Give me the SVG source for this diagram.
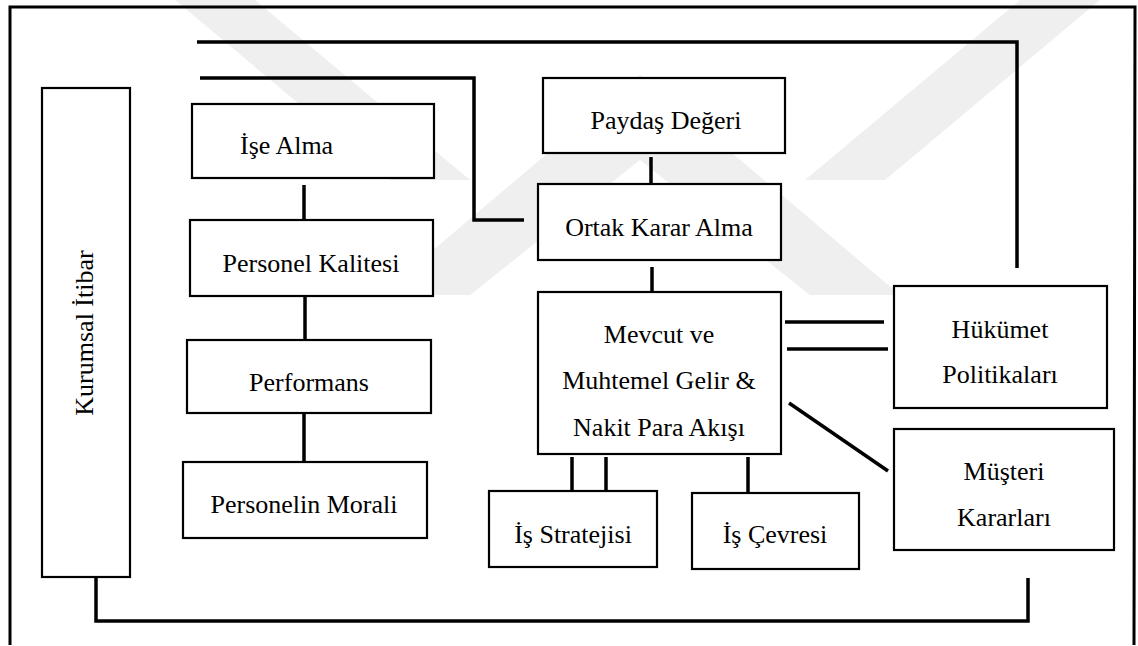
<svg xmlns="http://www.w3.org/2000/svg" width="1138" height="646" viewBox="0 0 1138 646">
<defs>
<style>
.box{fill:#fff;stroke:#000;stroke-width:2.2}
.lbl{font-family:'Liberation Serif','Times New Roman',Times,serif;font-size:26px;fill:#000;text-anchor:middle}
.con{fill:none;stroke:#000;stroke-width:3.5;stroke-linejoin:miter;stroke-linecap:butt}
.wm{fill:#efefef;stroke:none}
</style>
<linearGradient id="bfade" x1="0" y1="0" x2="1" y2="0">
<stop offset="0" stop-color="#444"/>
<stop offset="1" stop-color="#e0e0e0"/>
</linearGradient>
</defs>
<rect x="0" y="0" width="1138" height="646" fill="#fff"/>
<g id="watermark">
<polygon class="wm" points="640,75 900,295 810,295 640,160 470,295 380,295"/>
<polygon class="wm" points="175,0 255,0 470,180 390,180"/>
<polygon class="wm" points="1100,0 1020,0 805,180 885,180"/>
</g>
<g id="frame">
<polyline points="10,645 10,7 1135,7 1134,645" fill="none" stroke="#000" stroke-width="3"/>
<line x1="10" y1="645" x2="640" y2="645" stroke="url(#bfade)" stroke-width="2"/>
</g>
<g id="connectors">
<polyline class="con" points="197,42 1017,42 1017,268"/>
<polyline class="con" points="200,78 474,78 474,220 524,220"/>
<polyline class="con" points="96,577 96,621 1028,621 1028,578"/>
<line class="con" x1="304" y1="185" x2="304" y2="220"/>
<line class="con" x1="305" y1="296" x2="305" y2="340"/>
<line class="con" x1="304" y1="413" x2="304" y2="462"/>
<line class="con" x1="651" y1="157" x2="651" y2="184"/>
<line class="con" x1="652" y1="267" x2="652" y2="292"/>
<line class="con" x1="785" y1="322" x2="884" y2="322"/>
<line class="con" x1="787" y1="349" x2="888" y2="349"/>
<line class="con" x1="789" y1="403" x2="888" y2="471"/>
<line class="con" x1="572" y1="457" x2="572" y2="491"/>
<line class="con" x1="606" y1="457" x2="606" y2="491"/>
<line class="con" x1="748" y1="457" x2="748" y2="493"/>
</g>
<g id="kurumsal-itibar">
<rect class="box" x="42" y="88" width="88" height="489"/>
<text class="lbl" transform="translate(93,333) rotate(-90)">Kurumsal İtibar</text>
</g>
<g id="ise-alma">
<rect class="box" x="192" y="104" width="242" height="74"/>
<text class="lbl" x="240" y="154" style="text-anchor:start">İşe Alma</text>
</g>
<g id="personel-kalitesi">
<rect class="box" x="190" y="220" width="243" height="76"/>
<text class="lbl" x="311" y="272">Personel Kalitesi</text>
</g>
<g id="performans">
<rect class="box" x="187" y="340" width="244" height="73"/>
<text class="lbl" x="309" y="391">Performans</text>
</g>
<g id="personelin-morali">
<rect class="box" x="183" y="462" width="244" height="76"/>
<text class="lbl" x="304" y="513">Personelin Morali</text>
</g>
<g id="paydas-degeri">
<rect class="box" x="543" y="78" width="242" height="75"/>
<text class="lbl" x="666" y="129">Paydaş Değeri</text>
</g>
<g id="ortak-karar-alma">
<rect class="box" x="538" y="184" width="243" height="76"/>
<text class="lbl" x="659" y="236">Ortak Karar Alma</text>
</g>
<g id="mevcut">
<rect class="box" x="538" y="292" width="243" height="162"/>
<text class="lbl" x="659" y="343">Mevcut ve</text>
<text class="lbl" x="659" y="389">Muhtemel Gelir &amp;</text>
<text class="lbl" x="659" y="436">Nakit Para Akışı</text>
</g>
<g id="is-stratejisi">
<rect class="box" x="489" y="491" width="168" height="76"/>
<text class="lbl" x="573" y="543">İş Stratejisi</text>
</g>
<g id="is-cevresi">
<rect class="box" x="692" y="493" width="167" height="76"/>
<text class="lbl" x="775" y="543">İş Çevresi</text>
</g>
<g id="hukumet-politikalari">
<rect class="box" x="894" y="286" width="213" height="122"/>
<text class="lbl" x="1000" y="338">Hükümet</text>
<text class="lbl" x="1000" y="383">Politikaları</text>
</g>
<g id="musteri-kararlari">
<rect class="box" x="894" y="429" width="220" height="121"/>
<text class="lbl" x="1004" y="480">Müşteri</text>
<text class="lbl" x="1004" y="526">Kararları</text>
</g>
</svg>
